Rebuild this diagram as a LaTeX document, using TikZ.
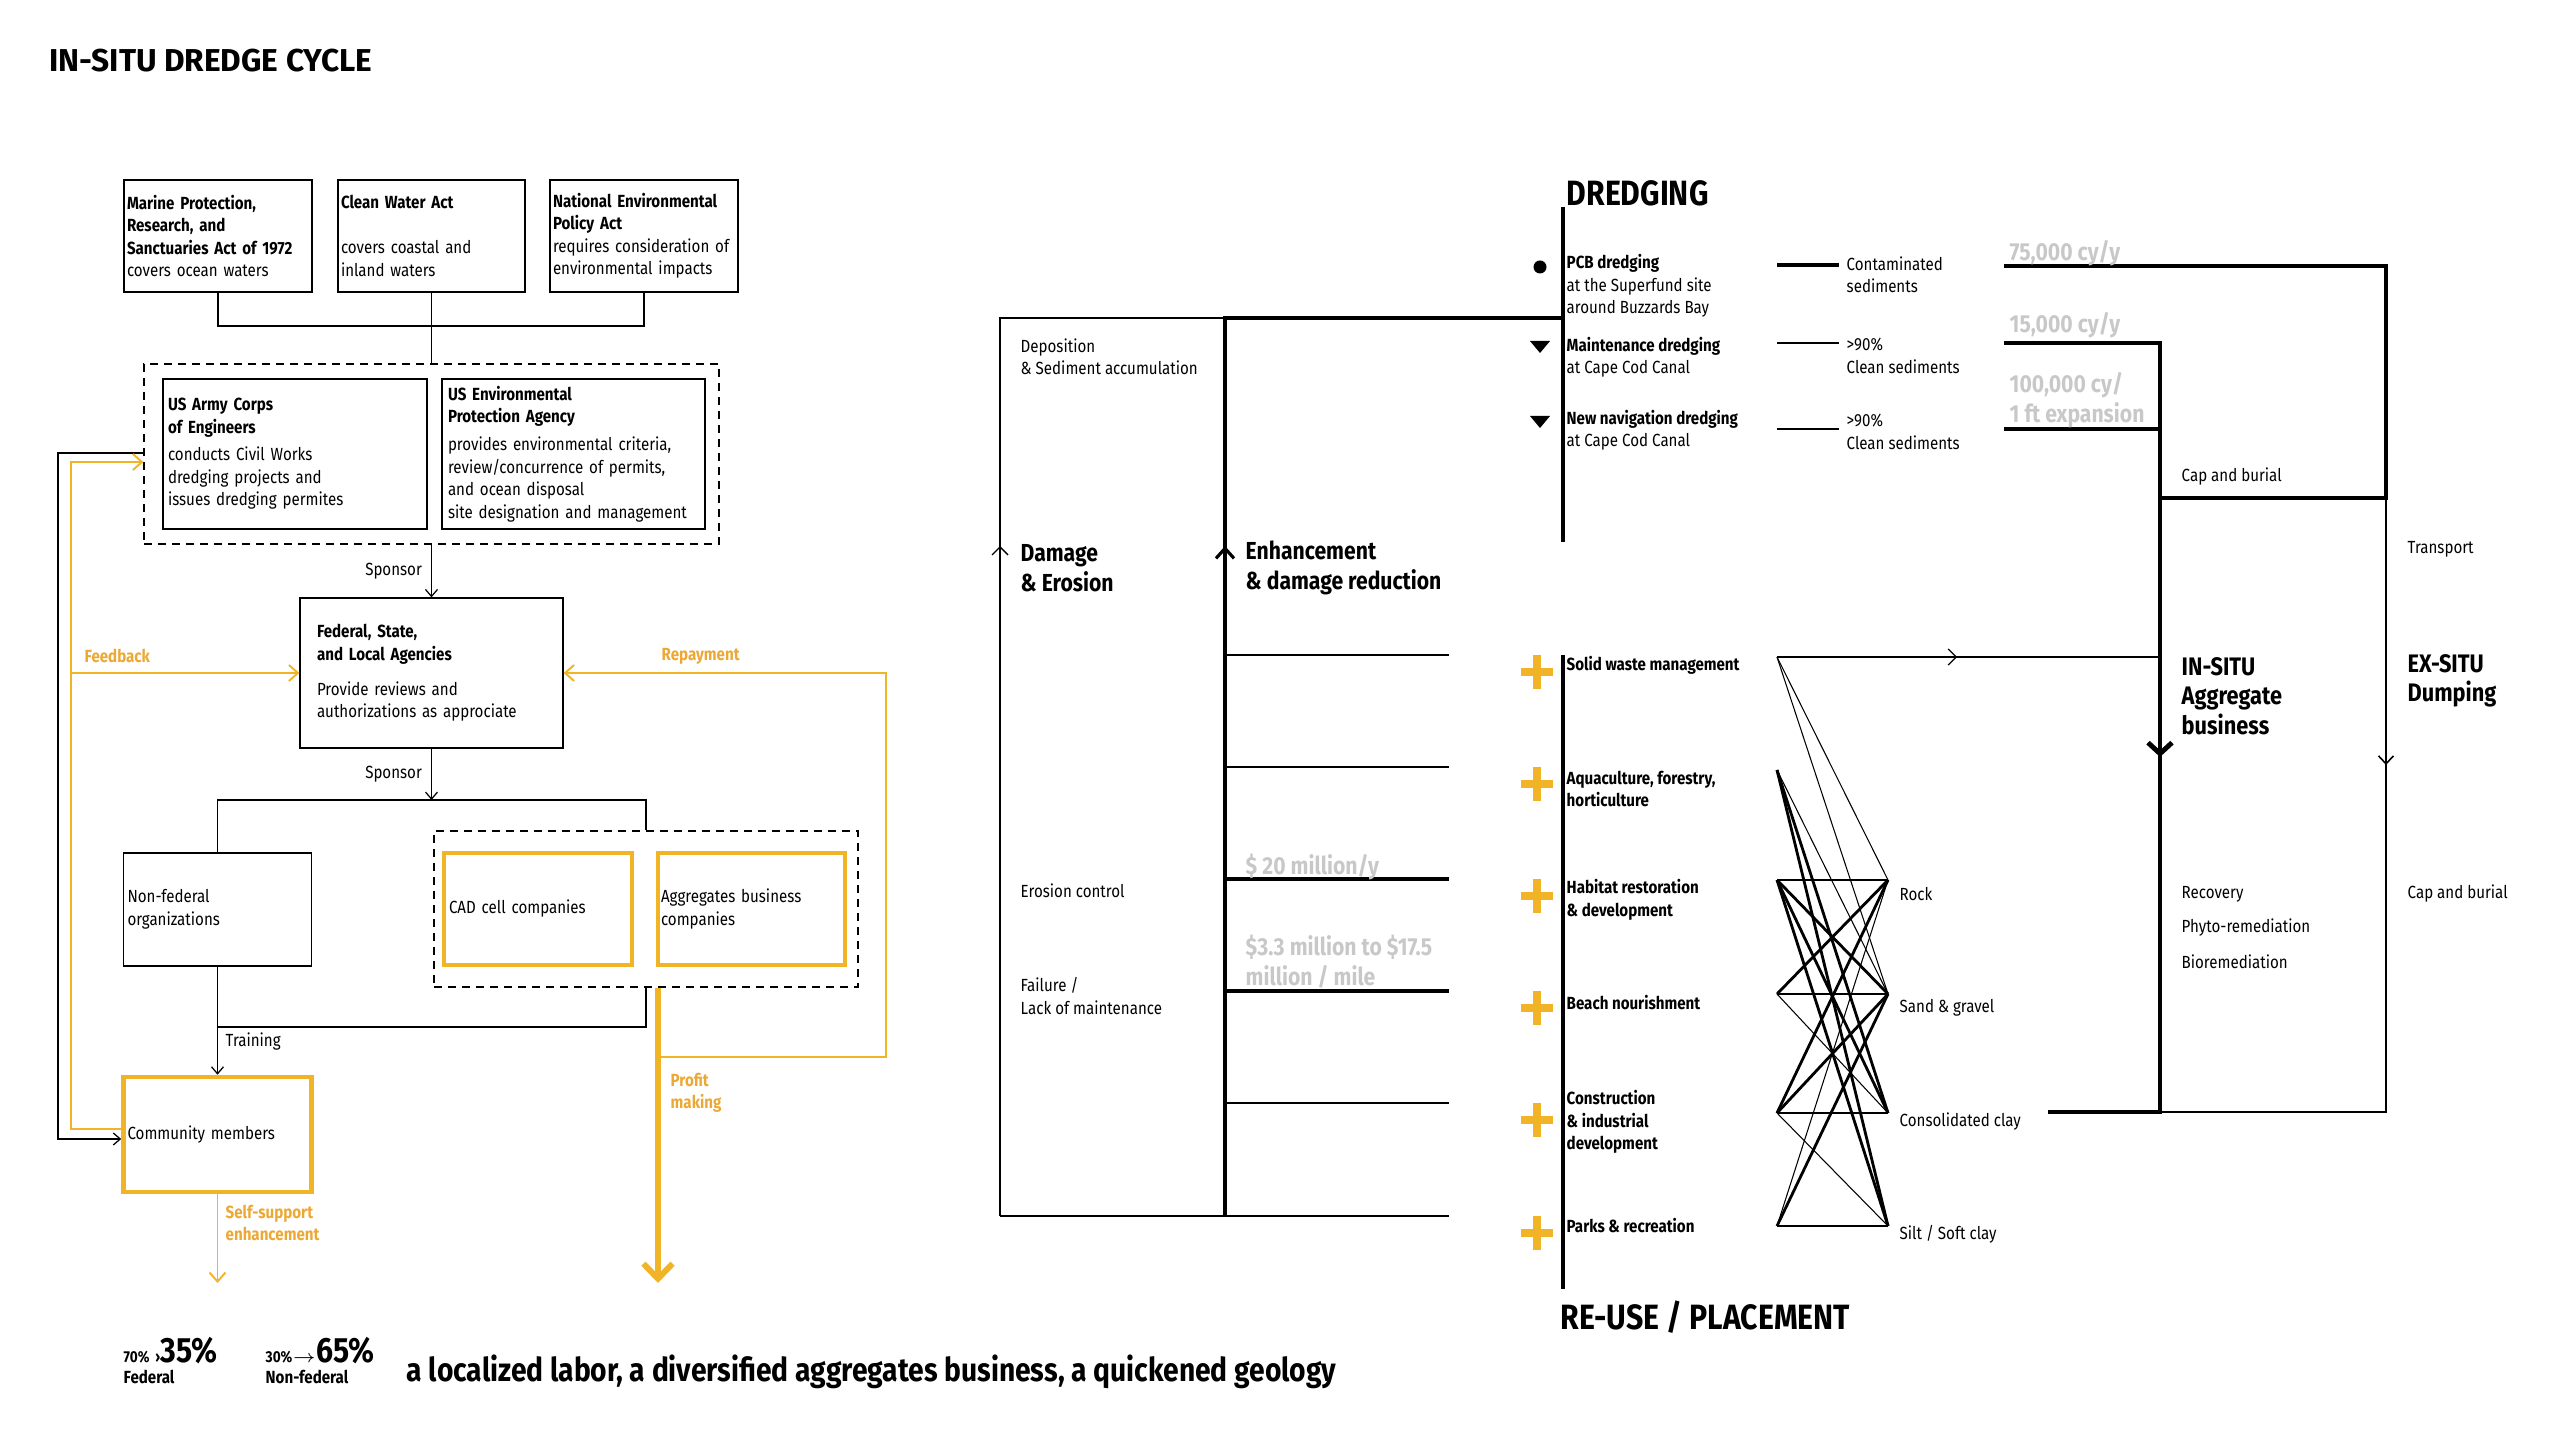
\documentclass[tikz,border=0pt]{standalone}
\usepackage{fontspec}
\setmainfont{Fira Sans}[FakeStretch=0.86]
\newfontfamily\widefont{Fira Sans}
\usetikzlibrary{arrows.meta}

\definecolor{dredgeorange}{RGB}{241,180,38}
\definecolor{labelorange}{RGB}{236,168,52}
\definecolor{figgray}{RGB}{200,200,200}

\newcommand\txs{\fontsize{5pt}{6.4pt}\selectfont}
\newcommand\txm{\fontsize{7pt}{8.5pt}\selectfont\bfseries}
\newcommand\txg{\fontsize{7pt}{8.5pt}\selectfont\bfseries\color{figgray}}
\newcommand\txl{\fontsize{10pt}{12pt}\selectfont\bfseries}

\tikzset{
  opentip/.tip={Straight Barb[length=0.7mm,width=1.2mm]},
  lawbox/.style={draw, line width=0.35pt, inner ysep=0pt, align=left, font=\txs},
  compbox/.style={lawbox, draw=dredgeorange, line width=1.3pt},
  dashgroup/.style={draw, line width=0.35pt, dash pattern=on 0.8mm off 0.6mm},
  wire/.style={line width=0.35pt},
  owire/.style={line width=0.55pt, draw=dredgeorange},
  lbl/.style={anchor=west, inner sep=0pt, align=left, font=\txs},
  olbl/.style={lbl, font=\txs\bfseries, text=labelorange},
  blbl/.style={lbl, font=\txs\bfseries},
  glbl/.style={lbl, font=\txg},
}

\begin{document}
\begin{tikzpicture}[x=0.1mm, y=-0.1mm]
  \useasboundingbox (0,0) rectangle (2560,1440);
  %
  \node[lbl, font=\widefont\fontsize{9pt}{10pt}\selectfont\bfseries] (title) at (49,61) {IN-SITU DREDGE CYCLE};
  %
  % laws
  \node[lawbox, inner xsep=0.3mm, text width=18.2mm, minimum height=11.2mm] (mprsa) at (218,236)
    {\textbf{Marine Protection,}\\\textbf{Research, and}\\\textbf{Sanctuaries Act of 1972}\\covers ocean waters};
  \node[lawbox, inner xsep=0.3mm, text width=18.1mm, minimum height=11.2mm] (cwa) at (431.5,236)
    {\textbf{Clean Water Act}\\[6.4pt]covers coastal and\\inland waters};
  \node[lawbox, inner xsep=0.3mm, text width=18.2mm, minimum height=11.2mm] (nepa) at (644,236)
    {\textbf{National Environmental}\\\textbf{Policy Act}\\requires consideration of\\environmental impacts};
  \coordinate (lawbus) at (431.5,326);
  \draw[wire] (mprsa.south) |- (lawbus) -| (nepa.south);
  %
  % agencies
  \node[dashgroup, minimum width=57.5mm, minimum height=18mm] (agencies) at (431.5,454) {};
  \node[lawbox, inner xsep=0.5mm, text width=25.4mm, minimum height=15mm] (usace) at (295,454)
    {\textbf{US Army Corps}\\\textbf{of Engineers}\\[1.5pt]conducts Civil Works\\dredging projects and\\issues dredging permites};
  \node[lawbox, inner xsep=0.6mm, text width=25.1mm, minimum height=15mm] (epa) at (573.5,454)
    {\textbf{US Environmental}\\\textbf{Protection Agency}\\[1.5pt]provides environmental criteria,\\review/concurrence of permits,\\and ocean disposal\\site designation and management};
  \draw[wire] (cwa.south) -- (agencies.north);
  %
  \node[lawbox, inner xsep=1.7mm, text width=22.9mm, minimum height=15mm] (fed) at (431.5,673)
    {\textbf{Federal, State,}\\\textbf{and Local Agencies}\\[3.5pt]Provide reviews and\\authorizations as approciate};
  \draw[wire, -opentip] (agencies.south) -- node[left, inner sep=0.9mm, font=\txs] (sponsora) {Sponsor} (fed.north);
  \coordinate (fedbus) at (431.5,800);
  \draw[wire, -opentip] (fed.south) -- node[left, inner sep=0.9mm, font=\txs] (sponsorb) {Sponsor} (fedbus);
  %
  % sponsored
  \node[lawbox, inner xsep=0.4mm, text width=18.0mm, minimum height=11.3mm] (nonfed) at (217.5,909.5)
    {Non-federal\\organizations};
  \node[dashgroup, minimum width=42.4mm, minimum height=15.6mm] (companies) at (646,909) {};
  \node[compbox, inner xsep=0.5mm, text width=17.8mm, minimum height=11.2mm] (cad) at (538,909)
    {CAD cell companies};
  \node[compbox, inner xsep=0.3mm, text width=18.1mm, minimum height=11.2mm] (aggco) at (751.5,909)
    {Aggregates business\\companies};
  \draw[wire] (nonfed.north) |- (fedbus) -| (companies.north);
  %
  \node[compbox, inner xsep=0.4mm, text width=18.0mm, minimum height=11.5mm] (community) at (217.5,1134.5)
    {Community members};
  \coordinate (trainbus) at (217.5,1027);
  \draw[wire] (companies.south) |- (trainbus);
  \draw[wire, -opentip] (nonfed.south) -- (community.north);
  \node[lbl] (training) at (225,1042) {Training};
  %
  % loops round the left
  \coordinate (cmtop) at (58,453);
  \coordinate (cmbot) at (58,1139);
  \draw[wire, -opentip] (cmtop -| agencies.west) -- (cmtop) -- (cmbot) -- (cmbot -| community.west);
  \coordinate (fbtop) at (71,462);
  \coordinate (fbbot) at (71,1129);
  \draw[owire, -{Straight Barb[length=0.9mm,width=1.6mm]}] (fbbot -| community.west) -- (fbbot) -- (fbtop) -- (fbtop -| agencies.west);
  \draw[owire, -{Straight Barb[length=0.9mm,width=1.6mm]}] (fbtop |- fed.west) -- (fed.west);
  \node[olbl] (feedback) at (84,656) {Feedback};
  %
  \coordinate (profitend) at (658,1283);
  \draw[dredgeorange, line width=1.7pt, -{Straight Barb[length=1.5mm,width=2.9mm]}] (companies.south -| profitend) -- (profitend);
  \node[olbl] (profit) at (670,1093) {Profit\\making};
  \coordinate (repay) at (658,1057);
  \coordinate (repaycorner) at (886,673);
  \draw[owire, -{Straight Barb[length=0.9mm,width=1.6mm]}] (repay) -| (repaycorner) -- (fed.east);
  \node[olbl] (repayment) at (661,656) {Repayment};
  %
  \coordinate (selfend) at (217.5,1283);
  \draw[owire, -{Straight Barb[length=0.9mm,width=1.6mm]}] (community.south) -- (selfend);
  \node[olbl] (selfsupport) at (225,1223) {Self-support\\enhancement};
  %
  % shares
  \node[anchor=base west, inner sep=0pt] (fedshare) at (123,1362)
    {{\fontsize{4.5pt}{5pt}\selectfont\bfseries 70\% \,›}{\fontsize{10pt}{10pt}\selectfont\bfseries 35\%}};
  \node[anchor=base west, inner sep=0pt, font=\txs\bfseries] (fedname) at (123,1383) {Federal};
  \node[anchor=base west, inner sep=0pt] (nfshare) at (265,1362)
    {{\fontsize{4.5pt}{5pt}\selectfont\bfseries 30\%$\scriptstyle\rightarrow$}{\fontsize{10pt}{10pt}\selectfont\bfseries 65\%}};
  \node[anchor=base west, inner sep=0pt, font=\txs\bfseries] (nfname) at (265,1383) {Non-federal};
  \node[anchor=base west, inner sep=0pt, font=\fontsize{9.34pt}{11pt}\selectfont\bfseries] (motto) at (406,1381)
    {a localized labor, a diversified aggregates business, a quickened geology};
  %
  % ---- damage / enhancement column
  \draw[line width=0.35pt] (1000,1216) -- (1000,318) -- (1225,318);
  \draw[line width=0.35pt] (1000,1216) -- (1449,1216);
  \draw[line width=0.9pt] (1225,1216) -- (1225,318) -- (1563,318);
  \foreach \y/\w in {655/0.35, 767/0.35, 879/1.1, 991/1.1, 1103/0.35}
    \draw[line width=\w pt] (1225,\y) -- (1449,\y);
  \draw[line width=0.4pt, -{Straight Barb[length=0.8mm,width=1.6mm]}] (1000,575) -- (1000,546);
  \draw[line width=0.9pt, -{Straight Barb[length=1mm,width=1.8mm]}] (1225,575) -- (1225,546);
  \node[lbl] (deposition) at (1020,357) {Deposition\\\& Sediment accumulation};
  \node[lbl, font=\txm] (damage) at (1020,568) {Damage\\\& Erosion};
  \node[lbl, font=\txm] (enhance) at (1245,568) {Enhancement\\\& damage reduction};
  \node[lbl] (erosion) at (1020,891) {Erosion control};
  \node[lbl] (failure) at (1020,996) {Failure /\\Lack of maintenance};
  \node[glbl] (costa) at (1245,867) {\$ 20 million/y};
  \node[glbl] (costb) at (1245,962) {\$3.3 million to \$17.5\\million / mile};
  %
  % ---- dredging
  \draw[line width=0.9pt] (1563,207) -- (1563,542);
  \node[lbl, font=\txl] (dredging) at (1566,193) {DREDGING};
  \fill (1540,267) circle (6.5);
  \foreach \y in {347,422}
    \fill (1530,\y-6) -- (1550,\y-6) -- (1540,\y+6) -- cycle;
  \node[lbl] (pcb) at (1566,286) {\textbf{PCB dredging}\\at the Superfund site\\around Buzzards Bay};
  \node[lbl] (maint) at (1566,357) {\textbf{Maintenance dredging}\\at Cape Cod Canal};
  \node[lbl] (newnav) at (1566,430) {\textbf{New navigation dredging}\\at Cape Cod Canal};
  \draw[line width=1.2pt] (1777,265) -- (1839,265);
  \draw[line width=0.7pt] (1777,343) -- (1839,343);
  \draw[line width=0.7pt] (1777,429) -- (1839,429);
  \node[lbl] (contam) at (1846,275) {Contaminated\\sediments};
  \node[lbl] (cleana) at (1846,356) {>90\%\\Clean sediments};
  \node[lbl] (cleanb) at (1846,432) {>90\%\\Clean sediments};
  %
  % volumes
  \draw[line width=1.4pt] (2004,266) -- (2386,266) -- (2386,498) -- (2160,498);
  \draw[line width=1.4pt] (2004,343) -- (2160,343) -- (2160,1112) -- (2048,1112);
  \draw[line width=1.4pt] (2004,429) -- (2160,429);
  \draw[line width=0.45pt] (2386,498) -- (2386,1112) -- (2160,1112);
  \draw[line width=1.4pt, -{Straight Barb[length=1.1mm,width=2.4mm]}] (2160,730) -- (2160,757);
  \draw[line width=0.45pt, -{Straight Barb[length=0.8mm,width=1.5mm]}] (2386,740) -- (2386,765);
  \node[glbl] (vola) at (2009,253) {75,000 cy/y};
  \node[glbl] (volb) at (2009,325) {15,000 cy/y};
  \node[glbl] (volc) at (2009,400) {100,000 cy/\\1 ft expansion};
  \node[lbl] (capa) at (2181,477) {Cap and burial};
  \node[lbl] (transport) at (2407,549) {Transport};
  \node[lbl, font=\fontsize{7.2pt}{8.4pt}\selectfont\bfseries] (insitu) at (2181,696) {IN-SITU\\Aggregate\\business};
  \node[lbl, font=\fontsize{7.2pt}{8.4pt}\selectfont\bfseries] (exsitu) at (2407,681) {EX-SITU\\Dumping};
  \foreach \t [count=\i] in {Recovery, Phyto-remediation, Bioremediation}
    \node[lbl] (treat\i) at (2181,860+34*\i) {\t};
  \node[lbl] (capb) at (2407,894) {Cap and burial};
  %
  % ---- re-use / placement
  \draw[line width=0.9pt] (1563,655) -- (1563,1289);
  \node[lbl, font=\txl] (reuse) at (1560,1317) {RE-USE / PLACEMENT};
  \foreach \y in {672,784,896,1008,1120,1233} {
    \draw[dredgeorange, line width=2.5pt] (1537,\y-17) -- (1537,\y+17);
    \draw[dredgeorange, line width=2.5pt] (1521,\y) -- (1553,\y);
  }
  \node[blbl] (solid) at (1566,665) {Solid waste management};
  \node[blbl] (aqua) at (1566,789) {Aquaculture, forestry,\\horticulture};
  \node[blbl] (habitat) at (1566,900) {Habitat restoration\\\& development};
  \node[blbl] (beach) at (1566,1003) {Beach nourishment};
  \node[blbl] (construct) at (1566,1122) {Construction\\\& industrial\\development};
  \node[blbl] (parks) at (1566,1226) {Parks \& recreation};
  %
  \foreach \i/\y in {1/657, 2/770, 3/880, 4/994, 5/1113, 6/1226}
    \coordinate (use\i) at (1777,\y);
  \foreach \i/\y in {1/880, 2/994, 3/1113, 4/1226}
    \coordinate (mat\i) at (1888,\y);
  \foreach \a/\b/\w in {1/1/0.3, 1/2/0.3, 2/2/0.3, 2/3/0.8, 2/4/0.8,
                        3/1/0.8, 3/2/0.8, 3/3/0.8, 3/4/0.8,
                        4/1/0.8, 4/2/0.8, 4/3/0.3,
                        5/1/0.8, 5/2/0.8, 5/3/0.5, 5/4/0.3,
                        6/1/0.3, 6/2/0.8, 6/4/0.5}
    \draw[line width=\w pt] (use\a) -- (mat\b);
  \coordinate (insitutop) at (2160,657);
  \coordinate (solidmid) at (1957,657);
  \draw[wire] (use1) -- (insitutop);
  \draw[wire, -{Straight Barb[length=0.8mm,width=1.6mm]}] (1930,657) -- (solidmid);
  \node[lbl] (rock) at (1899,894) {Rock};
  \node[lbl] (sand) at (1899,1008) {Sand \& gravel};
  \node[lbl] (clay) at (1899,1122) {Consolidated clay};
  \node[lbl] (silt) at (1899,1234) {Silt / Soft clay};
  %
\end{tikzpicture}
\end{document}
